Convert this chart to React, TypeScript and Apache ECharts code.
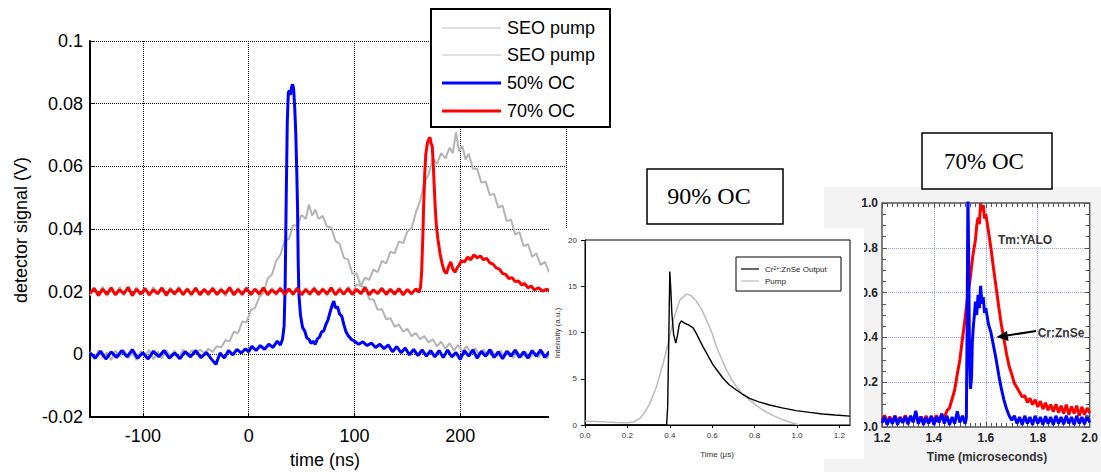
import React, { useEffect, useRef } from "react";
import * as echarts from "echarts";

// ---------- Main chart (time in ns, detector signal in V) ----------
const mainXTicks = [-100, 0, 100, 200];
const mainXTickMarks = [-100, 0, 100, 200, 300];
const mainLegend = ["SEO pump", "SEO pump", "50% OC", "70% OC"];

const pumpA: [number, number][] = [
  [-150,0.0008],[-146,-0.0015],[-142,0.0012],[-138,-0.001],[-134,0.0006],[-130,-0.0018],[-126,0.0012],[-122,-0.0008],[-118,0.0015],[-114,-0.0012],[-110,0.0004],[-106,-0.0018],[-102,0.001],[-98,-0.0008],[-94,0.0014],[-90,-0.0016],[-86,0.0008],[-82,-0.0012],[-78,0.0014],[-74,-0.0006],[-70,0.0012],[-66,-0.0012],[-62,0.0015],[-58,-0.0006],[-54,0.0013],[-50,0.0002],[-46,0.0015],[-42,0.0004],[-38,0.0018],[-34,0.0008],[-30,0.0026],[-26,0.0022],[-22,0.0045],[-18,0.0042],[-14,0.0072],[-10,0.0068],[-6,0.0105],[-2,0.0102],[2,0.0142],[6,0.0148],[10,0.0182],[14,0.0196],[18,0.0242],[22,0.0255],[26,0.0298],[30,0.0318],[34,0.0362],[38,0.0368],[42,0.0412],[46,0.041],[50,0.0445],[54,0.0432],[57,0.0478],[60,0.0442],[63,0.0462],[66,0.0432],[70,0.0442],[74,0.0408],[78,0.0405],[82,0.0362],[86,0.0352],[90,0.0308],[94,0.0302],[98,0.0258],[102,0.0258],[106,0.0218],[110,0.0214],[114,0.0176],[118,0.0175],[122,0.0142],[126,0.0144],[130,0.0112],[134,0.0115],[138,0.0088],[142,0.0095],[146,0.0072],[150,0.0082],[154,0.0058],[158,0.0068],[162,0.0048],[166,0.0058],[170,0.0038],[174,0.0048],[178,0.0026],[182,0.004],[186,0.0018],[190,0.0035],[194,0.0012],[198,0.003],[202,0.0008],[206,0.0026],[210,0.0004],[214,0.002],[218,-0.0002],[222,0.0016],[226,-0.0004],[230,0.0014],[234,-0.0008],[238,0.0012],[242,-0.0008],[246,0.001],[250,-0.0012],[254,0.0008],[258,-0.001],[262,0.0008],[266,-0.0012],[270,0.0006],[274,-0.001],[278,0.0009],[282,-0.0012],[286,0.0006],[290,-0.0011],[294,0.0008],[298,-0.0012],[300,0.0002]
];

const pumpB: [number, number][] = [
  [-150,0.0188],[-146,0.0213],[-142,0.0192],[-138,0.0216],[-134,0.0186],[-130,0.021],[-126,0.019],[-122,0.0215],[-118,0.0188],[-114,0.0211],[-110,0.0185],[-106,0.0214],[-102,0.0191],[-98,0.0212],[-94,0.0187],[-90,0.0215],[-86,0.019],[-82,0.0211],[-78,0.0186],[-74,0.0213],[-70,0.0189],[-66,0.0216],[-62,0.0188],[-58,0.0212],[-54,0.0186],[-50,0.0214],[-46,0.019],[-42,0.0211],[-38,0.0187],[-34,0.0215],[-30,0.0189],[-26,0.0212],[-22,0.0186],[-18,0.0214],[-14,0.019],[-10,0.0212],[-6,0.0187],[-2,0.0215],[2,0.0189],[6,0.0211],[10,0.0186],[14,0.0214],[18,0.019],[22,0.0212],[26,0.0188],[30,0.0215],[34,0.0189],[38,0.0211],[42,0.0187],[46,0.0214],[50,0.019],[54,0.0212],[58,0.0188],[62,0.0215],[66,0.0189],[70,0.0212],[74,0.0187],[78,0.0214],[82,0.0191],[86,0.0213],[90,0.0192],[94,0.0216],[98,0.0196],
  [102,0.0224],[106,0.0218],[110,0.0245],[114,0.0238],[118,0.027],[122,0.0262],[126,0.0298],[130,0.029],[134,0.0328],[138,0.0322],[142,0.036],[146,0.0355],[150,0.0392],[154,0.0402],[158,0.0452],[162,0.0488],[166,0.0548],[170,0.0572],[174,0.0625],[178,0.0608],[182,0.0642],[186,0.0625],[190,0.066],[193,0.0642],[196,0.0708],[199,0.0648],[202,0.0665],[205,0.0622],[208,0.064],[212,0.0592],[216,0.0592],[220,0.0548],[224,0.0552],[228,0.0508],[232,0.0512],[236,0.0468],[240,0.0475],[244,0.0425],[248,0.043],[252,0.0382],[256,0.039],[260,0.0345],[264,0.0352],[268,0.0312],[272,0.0322],[276,0.0285],[280,0.0295],[284,0.0262],[288,0.0275],[292,0.0248],[296,0.0262],[300,0.0245]
];

const oc50: [number, number][] = [
  [-150,0.0005],[-145,-0.0012],[-140,0.001],[-135,-0.0015],[-130,0.0008],[-125,-0.001],[-120,0.0012],[-115,-0.0008],[-110,0.0015],[-105,-0.0012],[-100,0.0005],[-95,-0.0015],[-90,0.001],[-85,-0.0008],[-80,0.0012],[-75,-0.0012],[-70,0.0004],[-65,-0.0014],[-60,0.0009],[-55,-0.0008],[-50,0.0012],[-45,-0.0011],[-40,0.0006],[-35,-0.0016],[-31,-0.0032],[-27,0.0004],[-23,-0.0012],[-19,0.0012],[-15,-0.0002],[-11,0.0016],[-7,0.0004],[-3,0.0018],[0,0.0008],[3,0.0026],[7,0.0012],[11,0.0028],[15,0.0016],[19,0.0032],[23,0.0022],[27,0.0042],[30,0.003],[32,0.0048],[33.5,0.009],[34.5,0.022],[35.5,0.05],[36.5,0.074],[37.5,0.0835],[38.5,0.0842],[39.5,0.0828],[40.5,0.0852],[41.5,0.0862],[42.5,0.0848],[43.5,0.079],[44.5,0.071],[45.5,0.058],[46.2,0.047],[46.8,0.03],[47.5,0.019],[49,0.0125],[51,0.0085],[53,0.0075],[55,0.0052],[57,0.0048],[59,0.0035],[61,0.0042],[63,0.0032],[65,0.005],[67,0.0055],[69,0.0072],[71,0.0075],[73,0.0095],[75,0.011],[77,0.0135],[79,0.0158],[80.5,0.017],[82,0.0148],[84,0.0152],[86,0.0128],[88,0.0122],[90,0.0095],[92,0.0072],[94,0.006],[97,0.0048],[100,0.0042],[104,0.0032],[108,0.004],[112,0.0028],[116,0.0036],[120,0.0022],[124,0.0032],[128,0.0018],[132,0.003],[136,0.0008],[140,0.0025],[144,0.0005],[148,0.002],[152,-0.0002],[156,0.0016],[160,-0.0004],[164,0.0014],[168,-0.0006],[172,0.0012],[176,-0.0008],[180,0.0012],[184,-0.001],[188,0.0014],[192,-0.0008],[196,0.0006],[200,-0.0016],[204,0.0012],[208,-0.0006],[212,0.0014],[216,-0.0012],[220,0.001],[224,-0.0006],[228,0.0015],[232,-0.001],[236,0.0008],[240,-0.0014],[244,0.001],[248,-0.0006],[252,0.0014],[256,-0.001],[260,0.0008],[264,-0.0012],[268,0.0012],[272,-0.0006],[276,0.0014],[280,-0.001],[284,0.0008],[288,-0.0012],[292,0.001],[296,-0.0008],[300,0.0006]
];

const oc70: [number, number][] = [
  [-150,0.0195],[-146,0.021],[-142,0.0188],[-138,0.0208],[-134,0.0192],[-130,0.0212],[-126,0.019],[-122,0.0206],[-118,0.0194],[-114,0.0214],[-110,0.0188],[-106,0.0208],[-102,0.0192],[-98,0.021],[-94,0.019],[-90,0.0206],[-86,0.0194],[-82,0.0212],[-78,0.0189],[-74,0.0207],[-70,0.0193],[-66,0.021],[-62,0.0191],[-58,0.0208],[-54,0.0192],[-50,0.0211],[-46,0.019],[-42,0.0207],[-38,0.0193],[-34,0.021],[-30,0.0191],[-26,0.0206],[-22,0.0194],[-18,0.0213],[-14,0.019],[-10,0.0207],[-6,0.0192],[-2,0.0211],[2,0.0191],[6,0.0208],[10,0.0193],[14,0.0212],[18,0.019],[22,0.0206],[26,0.0194],[30,0.021],[34,0.0191],[38,0.0209],[42,0.0192],[46,0.0211],[50,0.019],[54,0.0207],[58,0.0193],[62,0.021],[66,0.0191],[70,0.0208],[74,0.0193],[78,0.0212],[82,0.019],[86,0.0207],[90,0.0192],[94,0.021],[98,0.0191],[102,0.0208],[106,0.0193],[110,0.0213],[114,0.019],[118,0.0206],[122,0.0194],[126,0.0211],[130,0.0191],[134,0.0208],[138,0.0192],[142,0.021],[146,0.019],[150,0.0207],[154,0.0193],[158,0.0209],[161,0.0198],[162.5,0.0215],[163.5,0.026],[164.5,0.036],[165.5,0.048],[166.5,0.058],[167.5,0.064],[169,0.0675],[170.5,0.0688],[171.5,0.0692],[172.5,0.0672],[173.5,0.0665],[174.5,0.061],[175.5,0.053],[176.5,0.046],[177.5,0.041],[179,0.0365],[181,0.032],[183,0.0288],[185,0.0265],[187,0.0258],[189,0.028],[191,0.0295],[193,0.0272],[195,0.0262],[197,0.0275],[199,0.0285],[201,0.0298],[204,0.0295],[207,0.031],[210,0.0302],[213,0.0318],[216,0.0308],[219,0.0314],[222,0.0302],[225,0.0306],[228,0.0292],[231,0.0288],[234,0.0276],[237,0.0272],[240,0.0258],[243,0.0255],[246,0.0242],[249,0.0245],[252,0.0232],[255,0.0234],[258,0.0222],[261,0.0226],[264,0.0212],[267,0.0218],[270,0.0206],[274,0.0212],[278,0.0202],[282,0.0208],[286,0.0197],[290,0.0204],[294,0.0194],[298,0.0202],[300,0.0198]
];

// ---------- 90% OC chart (time in µs, intensity a.u.) ----------
const midXTicks = [0, 0.2, 0.4, 0.6, 0.8, 1.0, 1.2];
const crOutput: [number, number][] = [
  [0,0],[0.1,0],[0.2,0],[0.3,0],[0.385,0],[0.39,2.0],[0.395,9],[0.4,16.6],[0.405,14.5],[0.41,12],[0.418,9.8],[0.428,8.85],[0.437,9.8],[0.445,10.9],[0.455,11.25],[0.47,11.0],[0.49,10.8],[0.51,10.5],[0.525,9.9],[0.54,9.2],[0.557,8.45],[0.58,7.5],[0.604,6.5],[0.63,5.7],[0.651,5.05],[0.68,4.35],[0.714,3.78],[0.745,3.3],[0.776,2.88],[0.82,2.5],[0.871,2.16],[0.93,1.85],[0.996,1.55],[1.06,1.36],[1.12,1.19],[1.18,1.08],[1.25,0.96]
];
const pump90: [number, number][] = [
  [0,0.42],[0.05,0.38],[0.1,0.32],[0.15,0.28],[0.2,0.25],[0.23,0.35],[0.259,0.72],[0.28,1.3],[0.306,2.35],[0.337,4.14],[0.369,6.67],[0.392,8.83],[0.416,11.3],[0.447,13.5],[0.478,14.15],[0.5,14.0],[0.525,13.4],[0.55,12.5],[0.573,11.35],[0.6,9.9],[0.62,8.46],[0.645,7.1],[0.667,5.95],[0.69,5.0],[0.714,4.14],[0.745,3.3],[0.776,2.7],[0.81,2.1],[0.839,1.62],[0.88,1.1],[0.918,0.72],[0.96,0.35],[0.996,0.1],[1.01,0.03]
];

// ---------- 70% OC chart (time in microseconds) ----------
const tmYalo: [number, number][] = [
  [1.2,0.03],[1.21,0.052],[1.22,0.02],[1.23,0.046],[1.24,0.024],[1.25,0.05],[1.26,0.02],[1.27,0.045],[1.28,0.026],[1.29,0.052],[1.3,0.02],[1.31,0.047],[1.32,0.028],[1.33,0.056],[1.34,0.022],[1.35,0.046],[1.36,0.025],[1.37,0.05],[1.38,0.021],[1.39,0.046],[1.4,0.03],[1.41,0.052],[1.42,0.026],[1.43,0.056],[1.44,0.04],[1.45,0.072],[1.46,0.085],[1.47,0.125],[1.48,0.165],[1.49,0.235],[1.5,0.3],[1.51,0.395],[1.52,0.485],[1.53,0.585],[1.54,0.665],[1.55,0.765],[1.56,0.835],[1.565,0.9],[1.57,0.935],[1.575,0.905],[1.58,1.0],[1.585,0.965],[1.59,0.99],[1.595,0.93],[1.6,0.95],[1.61,0.875],[1.62,0.795],[1.63,0.705],[1.64,0.62],[1.65,0.535],[1.66,0.455],[1.67,0.39],[1.68,0.325],[1.69,0.27],[1.7,0.235],[1.71,0.195],[1.72,0.175],[1.73,0.155],[1.74,0.135],[1.75,0.14],[1.76,0.11],[1.77,0.128],[1.78,0.1],[1.79,0.122],[1.8,0.09],[1.81,0.115],[1.82,0.08],[1.83,0.108],[1.84,0.075],[1.85,0.1],[1.86,0.068],[1.87,0.102],[1.88,0.064],[1.89,0.095],[1.9,0.06],[1.91,0.1],[1.92,0.055],[1.93,0.092],[1.94,0.06],[1.95,0.095],[1.96,0.05],[1.97,0.09],[1.98,0.055],[1.99,0.085],[2.0,0.062]
];
const crZnSe: [number, number][] = [
  [1.2,0.018],[1.21,0.045],[1.22,0.01],[1.23,0.04],[1.24,0.014],[1.25,0.05],[1.26,0.01],[1.27,0.042],[1.28,0.018],[1.29,0.046],[1.3,0.012],[1.31,0.05],[1.32,0.02],[1.33,0.072],[1.34,0.014],[1.35,0.046],[1.36,0.01],[1.37,0.042],[1.38,0.015],[1.39,0.05],[1.4,0.01],[1.41,0.045],[1.42,0.02],[1.43,0.06],[1.44,0.015],[1.45,0.05],[1.46,0.01],[1.47,0.045],[1.48,0.015],[1.49,0.07],[1.5,0.02],[1.51,0.05],[1.52,0.014],[1.525,0.04],[1.528,0.45],[1.531,1.05],[1.534,0.75],[1.537,0.32],[1.541,0.17],[1.545,0.22],[1.548,0.38],[1.552,0.45],[1.556,0.5],[1.56,0.56],[1.565,0.5],[1.57,0.59],[1.575,0.53],[1.58,0.63],[1.585,0.55],[1.59,0.58],[1.595,0.51],[1.6,0.53],[1.61,0.46],[1.62,0.42],[1.63,0.36],[1.64,0.3],[1.65,0.23],[1.66,0.17],[1.67,0.12],[1.68,0.08],[1.69,0.05],[1.7,0.03],[1.71,0.05],[1.72,0.015],[1.73,0.045],[1.74,0.01],[1.75,0.05],[1.76,0.015],[1.77,0.045],[1.78,0.01],[1.79,0.05],[1.8,0.015],[1.81,0.045],[1.82,0.01],[1.83,0.048],[1.84,0.015],[1.85,0.045],[1.86,0.01],[1.87,0.05],[1.88,0.015],[1.89,0.045],[1.9,0.012],[1.91,0.05],[1.92,0.015],[1.93,0.045],[1.94,0.01],[1.95,0.05],[1.96,0.015],[1.97,0.045],[1.98,0.012],[1.99,0.05],[2.0,0.02]
];

const SANS = '"Liberation Sans", Arial, sans-serif';
const SERIF = '"Liberation Serif", "Times New Roman", serif';

function txt(text: string, x: number, y: number, font: string, fill: string, align: string, z: number, extra: any = {}) {
  return {
    type: "text", x, y, z, ...extra,
    style: { text, font, fill, align, textAlign: align, verticalAlign: "middle", textVerticalAlign: "middle" },
  };
}

function buildOption(): any {
  const dotted = { color: "#000", type: "dotted", width: 1 };
  const mainLegendColors = ["#c0c0c0", "#c0c0c0", "#0000ff", "#ff0000"];
  const mainLegendWidths = [1, 1, 3, 3];
  const legendRows = [28, 55, 83, 111];

  const elements: any[] = [
    // main legend
    { type: "rect", z: 10, shape: { x: 431, y: 9, width: 179, height: 118 }, style: { fill: "#fff", stroke: "#000", lineWidth: 2 } },
    ...mainLegend.flatMap((name, i) => [
      { type: "line", z: 11, shape: { x1: 442, y1: legendRows[i], x2: 501, y2: legendRows[i] }, style: { stroke: mainLegendColors[i], lineWidth: mainLegendWidths[i] } },
      txt(name, 507, legendRows[i], `18px ${SANS}`, "#000", "left", 11),
    ]),
    // main axis titles
    txt("detector signal (V)", 21, 230, `18px ${SANS}`, "#000", "center", 5, { rotation: Math.PI / 2 }),
    txt("time (ns)", 325, 460, `18px ${SANS}`, "#000", "center", 5),
    // backgrounds of inset pictures
    { type: "rect", z: 20, shape: { x: 824, y: 187, width: 277, height: 285 }, style: { fill: "#f3f3f3" } },
    { type: "rect", z: 30, shape: { x: 549, y: 228, width: 315, height: 231 }, style: { fill: "#fff" } },
    // 90% OC chart labels
    txt("Intensity (a.u.)", 557, 333, `8px ${SANS}`, "#333", "center", 34, { rotation: Math.PI / 2 }),
    txt("Time (µs)", 717, 454, `8px ${SANS}`, "#333", "center", 34),
    { type: "rect", z: 34, shape: { x: 736, y: 257, width: 105, height: 34 }, style: { fill: "#fff", stroke: "#000", lineWidth: 1 } },
    { type: "line", z: 35, shape: { x1: 741, y1: 269, x2: 759, y2: 269 }, style: { stroke: "#000", lineWidth: 1.2 } },
    { type: "line", z: 35, shape: { x1: 741, y1: 281, x2: 759, y2: 281 }, style: { stroke: "#bbb", lineWidth: 1.2 } },
    {
      type: "text", z: 35, x: 765, y: 269,
      style: {
        text: "{n|Cr}{s|2+}{n|:ZnSe Output}", fill: "#222", verticalAlign: "middle", textVerticalAlign: "middle",
        rich: { n: { fontSize: 8, fontFamily: SANS, fill: "#222", color: "#222" }, s: { fontSize: 5, fontFamily: SANS, verticalAlign: "top", fill: "#222", color: "#222" } },
      },
    },
    txt("Pump", 765, 281, `8px ${SANS}`, "#222", "left", 35),
    // 70% OC chart labels & annotations
    txt("Time (microseconds)", 987, 457, `bold 12px ${SANS}`, "#333", "center", 25),
    txt("Tm:YALO", 1025, 240, `bold 12px ${SANS}`, "#333", "center", 25),
    txt("Cr:ZnSe", 1061, 333, `bold 12px ${SANS}`, "#333", "center", 25),
    { type: "line", z: 25, shape: { x1: 1036, y1: 331, x2: 1004, y2: 336 }, style: { stroke: "#000", lineWidth: 2 } },
    { type: "polygon", z: 25, shape: { points: [[996.5, 337], [1007, 331], [1008.5, 341]] }, style: { fill: "#000" } },
    // caption boxes
    { type: "rect", z: 40, shape: { x: 647, y: 169, width: 136, height: 55 }, style: { fill: "#fff", stroke: "#000", lineWidth: 1.5 } },
    txt("90% OC", 709, 196, `24px ${SERIF}`, "#000", "center", 41),
    { type: "rect", z: 40, shape: { x: 922, y: 133, width: 130, height: 56 }, style: { fill: "#fff", stroke: "#000", lineWidth: 1.5 } },
    txt("70% OC", 984, 161, `23px ${SERIF}`, "#000", "center", 41),
  ];

  const rightTickStyle = { color: "#555", width: 1 };

  return {
    animation: false,
    backgroundColor: "#fff",
    textStyle: { fontFamily: SANS },
    grid: [
      { left: 90, top: 41, width: 476, height: 376, show: false, z: 0 },
      { left: 585, top: 240, width: 265, height: 185, show: true, borderColor: "#000", borderWidth: 1, backgroundColor: "transparent", z: 31 },
      { left: 882, top: 203, width: 211, height: 224, show: true, borderColor: "#555", borderWidth: 1.5, backgroundColor: "#fff", z: 21 },
    ],
    xAxis: [
      {
        gridIndex: 0, type: "value", min: -150, max: 300, z: 1,
        axisLine: { show: true, onZero: false, lineStyle: { color: "#000", width: 2 } },
        axisTick: { show: true, inside: true, length: 4, customValues: mainXTickMarks, lineStyle: { color: "#000" } },
        axisLabel: { customValues: mainXTicks, fontSize: 18, color: "#000", fontFamily: SANS, margin: 10 },
        splitLine: { show: true, lineStyle: dotted },
      },
      {
        gridIndex: 1, type: "value", min: 0, max: 1.25, z: 32,
        axisLine: { show: true, onZero: false, lineStyle: { color: "#000", width: 1 } },
        axisTick: { show: true, inside: false, length: 3, customValues: midXTicks, lineStyle: { color: "#000" } },
        axisLabel: { customValues: midXTicks, fontSize: 8, color: "#333", fontFamily: SANS, margin: 6, formatter: (v: number) => v.toFixed(1) },
        splitLine: { show: false },
      },
      {
        gridIndex: 2, type: "value", min: 1.2, max: 2.0, interval: 0.2, z: 22,
        axisLine: { show: false, onZero: false },
        axisTick: { show: true, inside: true, length: 5, lineStyle: rightTickStyle },
        minorTick: { show: true, splitNumber: 10, length: 4, lineStyle: rightTickStyle },
        axisLabel: { fontSize: 12, fontWeight: "bold", color: "#222", fontFamily: SANS, margin: 5, formatter: (v: number) => v.toFixed(1) },
        splitLine: { show: true, showMinLine: false, showMaxLine: false, lineStyle: { color: "#9a9af0", width: 1, type: "dotted" } },
      },
      {
        gridIndex: 2, type: "value", position: "top", min: 1.2, max: 2.0, interval: 0.2, z: 24,
        axisLine: { show: false, onZero: false },
        axisTick: { show: true, inside: true, length: 5, lineStyle: rightTickStyle },
        minorTick: { show: true, splitNumber: 10, length: 4, lineStyle: rightTickStyle },
        axisLabel: { show: false },
        splitLine: { show: false },
      },
    ],
    yAxis: [
      {
        gridIndex: 0, type: "value", min: -0.02, max: 0.1, interval: 0.02, z: 1,
        axisLine: { show: true, onZero: false, lineStyle: { color: "#000", width: 2 } },
        axisTick: { show: true, inside: true, length: 4, lineStyle: { color: "#000" } },
        axisLabel: { fontSize: 18, color: "#000", fontFamily: SANS, margin: 7, formatter: (v: number) => String(Math.round(v * 100) / 100) },
        splitLine: { show: true, showMinLine: false, lineStyle: dotted },
      },
      {
        gridIndex: 1, type: "value", min: 0, max: 20, interval: 5, z: 32,
        axisLine: { show: true, onZero: false, lineStyle: { color: "#000", width: 1 } },
        axisTick: { show: true, inside: false, length: 4, lineStyle: { color: "#000" } },
        axisLabel: { fontSize: 8, color: "#333", fontFamily: SANS, margin: 8 },
        splitLine: { show: false },
      },
      {
        gridIndex: 2, type: "value", min: 0, max: 1, interval: 0.2, z: 22,
        axisLine: { show: false, onZero: false },
        axisTick: { show: true, inside: true, length: 5, lineStyle: rightTickStyle },
        minorTick: { show: true, splitNumber: 4, length: 4, lineStyle: rightTickStyle },
        axisLabel: { fontSize: 12, fontWeight: "bold", color: "#222", fontFamily: SANS, margin: 4, formatter: (v: number) => v.toFixed(1) },
        splitLine: { show: true, showMinLine: false, showMaxLine: false, lineStyle: { color: "#9a9af0", width: 1, type: "dotted" } },
      },
      {
        gridIndex: 2, type: "value", position: "right", min: 0, max: 1, interval: 0.2, z: 24,
        axisLine: { show: false, onZero: false },
        axisTick: { show: true, inside: true, length: 5, lineStyle: rightTickStyle },
        minorTick: { show: true, splitNumber: 4, length: 4, lineStyle: rightTickStyle },
        axisLabel: { show: false },
        splitLine: { show: false },
      },
    ],
    series: [
      { type: "line", name: "SEO pump", xAxisIndex: 0, yAxisIndex: 0, data: pumpA, symbol: "none", z: 2, lineStyle: { color: "#b4b4b4", width: 2 } },
      { type: "line", name: "SEO pump ", xAxisIndex: 0, yAxisIndex: 0, data: pumpB, symbol: "none", z: 2, lineStyle: { color: "#b4b4b4", width: 2 } },
      { type: "line", name: "50% OC", xAxisIndex: 0, yAxisIndex: 0, data: oc50, symbol: "none", z: 3, lineStyle: { color: "#0000ff", width: 3 } },
      { type: "line", name: "70% OC", xAxisIndex: 0, yAxisIndex: 0, data: oc70, symbol: "none", z: 3, lineStyle: { color: "#ff0000", width: 3 } },
      { type: "line", name: "Pump", xAxisIndex: 1, yAxisIndex: 1, data: pump90, symbol: "none", z: 33, lineStyle: { color: "#bbbbbb", width: 1.5 } },
      { type: "line", name: "Cr2+:ZnSe Output", xAxisIndex: 1, yAxisIndex: 1, data: crOutput, symbol: "none", z: 33, lineStyle: { color: "#000", width: 1.4 } },
      { type: "line", name: "Tm:YALO", xAxisIndex: 2, yAxisIndex: 2, data: tmYalo, symbol: "none", z: 23, lineStyle: { color: "#ff0000", width: 3 } },
      { type: "line", name: "Cr:ZnSe", xAxisIndex: 2, yAxisIndex: 2, data: crZnSe, symbol: "none", z: 23, lineStyle: { color: "#0000ff", width: 3 } },
    ],
    graphic: { elements },
  };
}

export default function App() {
  const ref = useRef<HTMLDivElement>(null);
  useEffect(() => {
    if (!ref.current) return;
    const chart = echarts.init(ref.current, undefined, { renderer: "svg" });
    chart.setOption(buildOption());
    return () => chart.dispose();
  }, []);
  return (
    <div
      ref={ref}
      style={{ position: "fixed", left: 0, top: 0, width: 1101, height: 472, background: "#fff" }}
    />
  );
}
